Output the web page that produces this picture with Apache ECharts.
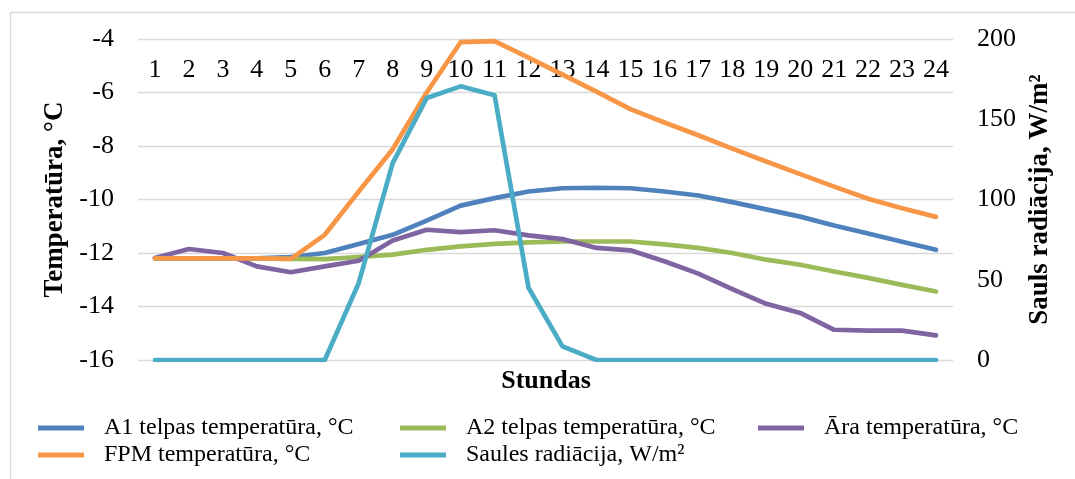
<!DOCTYPE html>
<html>
<head>
<meta charset="utf-8">
<script src="https://cdn.jsdelivr.net/npm/echarts@6/dist/echarts.min.js"></script>
<style>
  html, body { margin: 0; padding: 0; background: #fff; }
  #chart { width: 1075px; height: 479px; }
</style>
</head>
<body>
<div id="chart"></div>
<script>
// Hours of the day
const hours = ['1','2','3','4','5','6','7','8','9','10','11','12','13','14','15','16','17','18','19','20','21','22','23','24'];

// Temperatures, °C (left axis)
const a1Temp = [-12.2,-12.2,-12.2,-12.2,-12.15,-12.0,-11.66,-11.32,-10.79,-10.23,-9.95,-9.7,-9.58,-9.56,-9.58,-9.7,-9.85,-10.1,-10.37,-10.64,-10.97,-11.27,-11.58,-11.88];
const a2Temp = [-12.2,-12.2,-12.2,-12.2,-12.22,-12.23,-12.15,-12.06,-11.88,-11.75,-11.66,-11.6,-11.57,-11.57,-11.57,-11.68,-11.81,-12.0,-12.25,-12.44,-12.69,-12.93,-13.19,-13.44];
const outdoorTemp = [-12.19,-11.85,-12.0,-12.5,-12.72,-12.5,-12.29,-11.53,-11.13,-11.22,-11.15,-11.34,-11.48,-11.81,-11.9,-12.31,-12.77,-13.35,-13.9,-14.24,-14.87,-14.9,-14.9,-15.08];
const fpmTemp = [-12.2,-12.2,-12.2,-12.2,-12.22,-11.32,-9.7,-8.12,-6.0,-4.12,-4.08,-4.7,-5.33,-5.97,-6.62,-7.12,-7.6,-8.1,-8.58,-9.05,-9.52,-9.97,-10.33,-10.65];

// Solar radiation, W/m² (right axis)
const solarRad = [0,0,0,0,0,0,48,122.7,163.2,170.5,165,45,8.5,0,0,0,0,0,0,0,0,0,0,0];

// Axis ranges
const tempAxis = { min: -16, max: -4, interval: 2 };
const radAxis = { min: 0, max: 200, interval: 50 };

const seriesNames = [
  'A1 telpas temperatūra, °C',
  'A2 telpas temperatūra, °C',
  'Āra temperatūra, °C',
  'FPM temperatūra, °C',
  'Saules radiācija, W/m²'
];
const seriesColors = ['#4f81bd', '#9bbb59', '#8064a2', '#f79646', '#4bacc6'];
const seriesData = [a1Temp, a2Temp, outdoorTemp, fpmTemp, solarRad];
const seriesAxis = [0, 0, 0, 0, 1];

const FONT = 'Liberation Serif';

// Legend laid out as a 3-column grid
const legendSlots = [
  { left: 38, top: 416 },
  { left: 400, top: 416 },
  { left: 758, top: 416 },
  { left: 38, top: 443 },
  { left: 400, top: 443 }
];

const chart = echarts.init(document.getElementById('chart'), null, { renderer: 'canvas' });

chart.setOption({
  backgroundColor: '#ffffff',
  animation: false,
  textStyle: { fontFamily: FONT },
  grid: { left: 138, right: 122, top: 39, bottom: 119, containLabel: false },
  legend: seriesNames.map((name, i) => ({
    data: [name],
    left: legendSlots[i].left,
    top: legendSlots[i].top,
    padding: 0,
    icon: 'rect',
    itemWidth: 46,
    itemHeight: 5,
    selectedMode: false,
    textStyle: { fontFamily: FONT, fontSize: 24, color: '#000', padding: [0, 0, 0, 15] }
  })),
  xAxis: {
    type: 'category',
    data: hours,
    position: 'top',
    boundaryGap: true,
    axisLine: { show: false },
    axisTick: { show: false },
    splitLine: { show: false },
    axisLabel: { inside: true, margin: 18, interval: 0, fontFamily: FONT, fontSize: 26, color: '#000' }
  },
  yAxis: [
    {
      type: 'value',
      position: 'left',
      min: tempAxis.min, max: tempAxis.max, interval: tempAxis.interval,
      name: 'Temperatūra, °C',
      nameLocation: 'middle',
      nameGap: 68,
      nameTextStyle: { fontFamily: FONT, fontSize: 27, fontWeight: 'bold', color: '#000' },
      axisLine: { show: false },
      axisTick: { show: false },
      splitLine: { show: true, lineStyle: { color: '#d9d9d9', width: 1.3 } },
      axisLabel: { margin: 24, fontFamily: FONT, fontSize: 26, color: '#000' }
    },
    {
      type: 'value',
      position: 'right',
      min: radAxis.min, max: radAxis.max, interval: radAxis.interval,
      name: 'Sauls radiācija, W/m²',
      nameLocation: 'middle',
      nameGap: 74,
      nameTextStyle: { fontFamily: FONT, fontSize: 27, fontWeight: 'bold', color: '#000' },
      axisLine: { show: false },
      axisTick: { show: false },
      splitLine: { show: false },
      axisLabel: { margin: 24, fontFamily: FONT, fontSize: 26, color: '#000' }
    }
  ],
  series: seriesNames.map((name, i) => ({
    name: name,
    type: 'line',
    yAxisIndex: seriesAxis[i],
    data: seriesData[i],
    showSymbol: false,
    symbol: 'none',
    smooth: false,
    color: seriesColors[i],
    lineStyle: { color: seriesColors[i], width: 4.7, join: 'round', cap: 'round' }
  })),
  graphic: [
    {
      type: 'rect',
      silent: true,
      z: -10,
      shape: { x: 10.5, y: 12.5, width: 1100, height: 500 },
      style: { fill: 'none', stroke: '#d9d9d9', lineWidth: 1.3 }
    },
    {
      type: 'text',
      silent: true,
      x: 546,
      y: 381,
      style: {
        text: 'Stundas',
        font: "bold 26px 'Liberation Serif'",
        fill: '#000',
        textAlign: 'center',
        textVerticalAlign: 'middle',
        align: 'center',
        verticalAlign: 'middle'
      }
    }
  ]
});
</script>
</body>
</html>
